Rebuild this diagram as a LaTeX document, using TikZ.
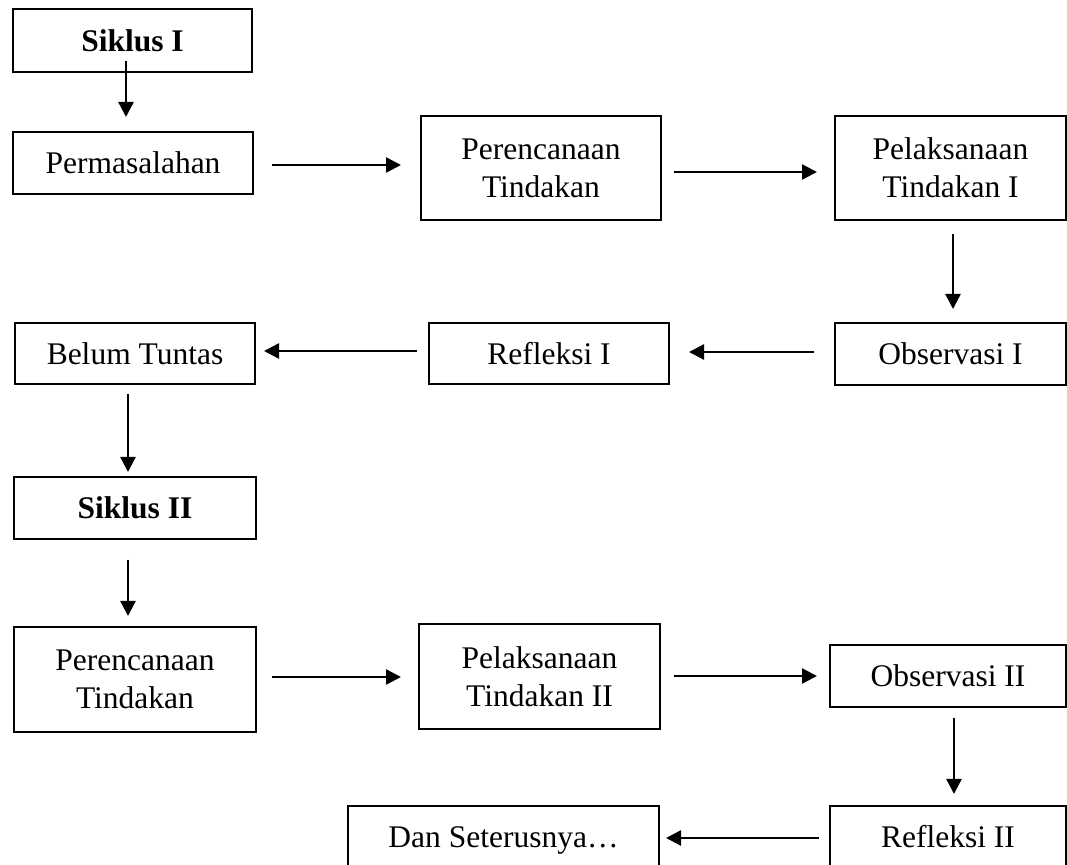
\documentclass[tikz,border=0pt]{standalone}
\usepackage{fontspec}
\setmainfont{Liberation Serif}
\usetikzlibrary{arrows.meta}

\begin{document}
\begin{tikzpicture}[
        x=0.5pt, y=-0.5pt, % grid in pixels, y goes down
        cell/.style={draw, line width=1pt, inner sep=0pt, align=center,
            font=\fontsize{15.75}{19}\selectfont}, % box style
        arr/.style={draw, line width=1.2pt, -{Triangle[length=7.5pt, width=7.5pt]}},
    ]
    \useasboundingbox (0,0) rectangle (1067,865);

    % Siklus I
    \node[cell, minimum width=119.5pt, minimum height=31.5pt] (siklusA) at (132.5,40.5) {\textbf{Siklus I}};
    \node[cell, minimum width=120pt, minimum height=31pt] (masalah) at (133,163) {Permasalahan};
    \node[cell, minimum width=120pt, minimum height=52pt] (rencanaA) at (541,168) {Perencanaan\\Tindakan};
    \node[cell, minimum width=115.5pt, minimum height=52pt] (laksanaA) at (950.5,168) {Pelaksanaan\\Tindakan I};
    \node[cell, minimum width=115.5pt, minimum height=31pt] (obsA) at (950.5,354) {Observasi I};
    \node[cell, minimum width=120pt, minimum height=30.5pt] (refA) at (549,353.5) {Refleksi I};
    \node[cell, minimum width=120pt, minimum height=30.5pt] (belum) at (135,353.5) {Belum Tuntas};

    % Siklus II
    \node[cell, minimum width=121pt, minimum height=31pt] (siklusB) at (135,508) {\textbf{Siklus II}};
    \node[cell, minimum width=121pt, minimum height=52.5pt] (rencanaB) at (135,679.5) {Perencanaan\\Tindakan};
    \node[cell, minimum width=120.5pt, minimum height=52.5pt] (laksanaB) at (539.5,676.5) {Pelaksanaan\\Tindakan II};
    \node[cell, minimum width=118pt, minimum height=31pt] (obsB) at (948,676) {Observasi II};
    \node[cell, minimum width=118pt, minimum height=31pt] (refB) at (948,837) {Refleksi II};
    \node[cell, minimum width=155.5pt, minimum height=31pt, text depth=0pt] (lanjut) at (503.5,837) {Dan Seterusnya…};

    % connectors
    \draw[arr, shorten <=-6pt, shorten >=7pt] ([xshift=-3.25pt]siklusA.south) -- ([xshift=-3.5pt]masalah.north);
    \draw[arr, shorten <=9pt, shorten >=9.5pt] ([yshift=-1pt]masalah.east) -- ([yshift=1.5pt]rencanaA.west);
    \draw[arr, shorten <=6pt, shorten >=8.5pt] ([yshift=-2pt]rencanaA.east) -- ([yshift=-2pt]laksanaA.west);
    \draw[arr, shorten <=6.5pt, shorten >=6.5pt] ([xshift=1.25pt]laksanaA.south) -- ([xshift=1.25pt]obsA.north);
    \draw[arr, shorten <=10pt, shorten >=9.5pt] ([yshift=1pt]obsA.west) -- ([yshift=0.75pt]refA.east);
    \draw[arr, shorten <=5.5pt, shorten >=4pt] ([yshift=1.25pt]refA.west) -- ([yshift=1.25pt]belum.east);
    \draw[arr, shorten <=4.5pt, shorten >=2pt] ([xshift=-3.5pt]belum.south) -- ([xshift=-3.5pt]siklusB.north);
    \draw[arr, shorten <=10pt, shorten >=5pt] ([xshift=-3.5pt]siklusB.south) -- ([xshift=-3.5pt]rencanaB.north);
    \draw[arr, shorten <=7.5pt, shorten >=8.5pt] ([yshift=1.25pt]rencanaB.east) -- ([yshift=-0.25pt]laksanaB.west);
    \draw[arr, shorten <=6.5pt, shorten >=6pt] ([yshift=0.25pt]laksanaB.east) -- (obsB.west);
    \draw[arr, shorten <=5pt, shorten >=5.5pt] ([xshift=3pt]obsB.south) -- ([xshift=3pt]refB.north);
    \draw[arr, shorten <=5pt, shorten >=3pt] ([yshift=-0.5pt]refB.west) -- ([yshift=-0.5pt]lanjut.east);

\end{tikzpicture}
\end{document}
